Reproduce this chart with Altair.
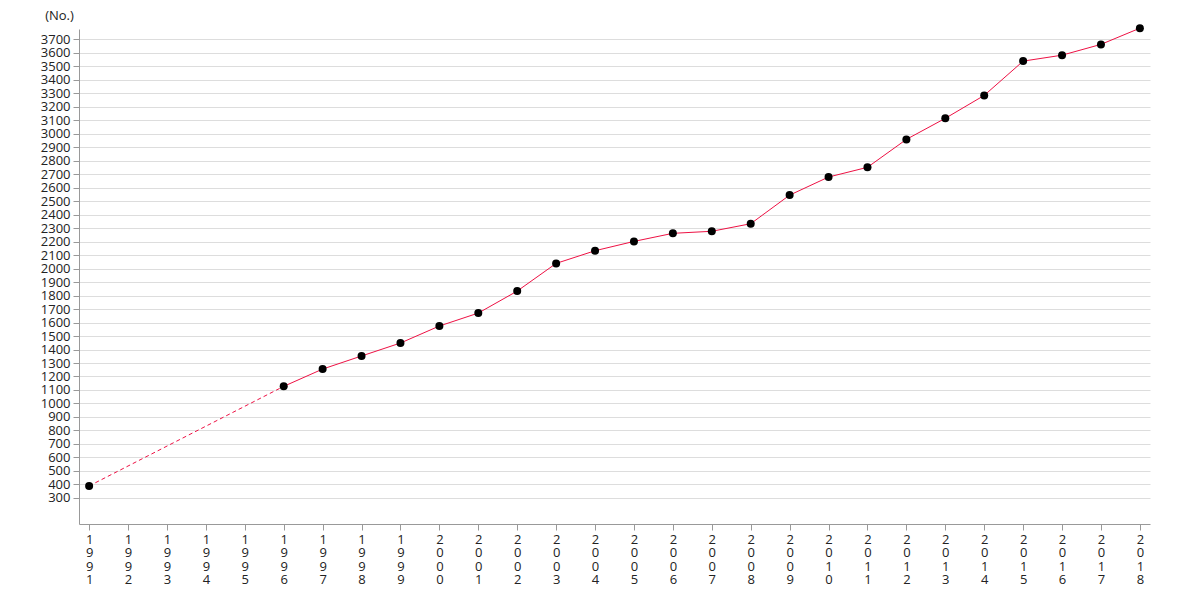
import altair as alt
import pandas as pd

years = [str(y) for y in range(1991, 2019)]
values = [389, None, None, None, None, 1127, 1255, 1352, 1448, 1574, 1670, 1833,
          2038, 2132, 2201, 2261, 2276, 2332, 2544, 2678, 2750, 2957, 3113, 3283,
          3537, 3581, 3661, 3781]
y_ticks = list(range(300, 3800, 100))

df = pd.DataFrame({"year": years, "value": values})
known = df.dropna()
gap = df[df["year"].isin(["1991", "1996"])]
solid = df[df["year"].astype(int) >= 1996]

LINE = "#ee1144"
FONT = "Open Sans"

x = alt.X("year:O", sort=years,
          scale=alt.Scale(type="point", padding=0.26, domain=years),
          axis=alt.Axis(title=None, labelAngle=0, grid=False,
                        labelExpr="split(datum.label, '')",
                        labelFontSize=13, labelLineHeight=13.5,
                        labelColor="#222", labelPadding=3,
                        domainColor="#999", tickColor="#999", tickSize=6))
y = alt.Y("value:Q", scale=alt.Scale(domain=[107, 3775], nice=False, zero=False),
          axis=alt.Axis(values=y_ticks, format="d", title="(No.)", titleAngle=0,
                        titleX=-20, titleY=-14, titleAlign="center",
                        titleBaseline="middle", titleFontWeight="normal",
                        titleFontSize=13, titleColor="#222",
                        labelFontSize=13, labelColor="#222", labelPadding=3,
                        gridColor="#dddddd", domainColor="#999", tickColor="#999",
                        tickSize=6))

dashed = alt.Chart(gap).mark_line(color=LINE, strokeWidth=1, strokeDash=[4, 3]).encode(x=x, y=y)
line = alt.Chart(solid).mark_line(color=LINE, strokeWidth=1).encode(x=x, y=y)
pts = alt.Chart(known).mark_circle(color="black", opacity=1, size=64).encode(x=x, y=y)

chart = alt.layer(dashed, line, pts).properties(
    width=1071, height=495,
    autosize=alt.AutoSizeParams(type="none"),
    padding={"left": 71, "top": 21, "right": 22, "bottom": 68},
).configure(font=FONT, view=alt.ViewConfig(stroke=None))

chart.save("out.html", embed_options={"renderer": "svg", "actions": False})
